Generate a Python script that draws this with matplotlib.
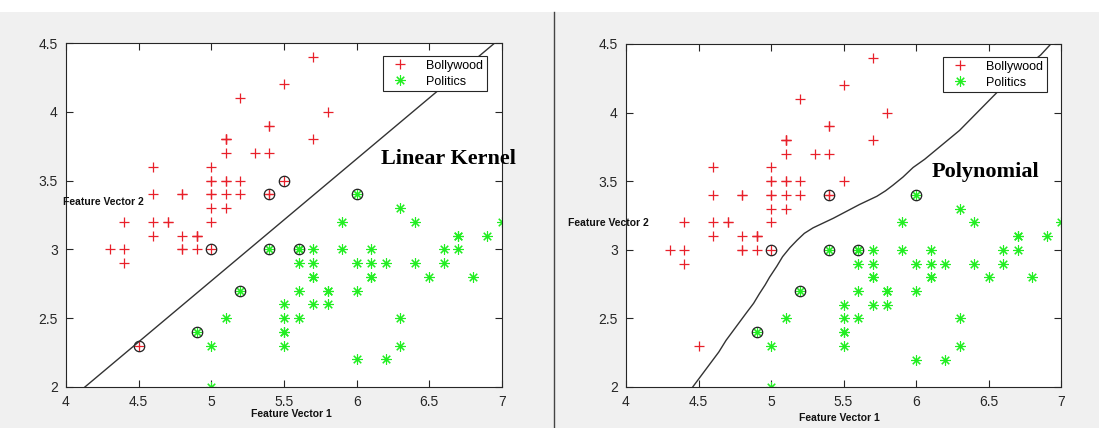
import matplotlib.pyplot as plt
from matplotlib.patches import Rectangle
from matplotlib.lines import Line2D

plt.rcParams['font.family'] = ['Liberation Sans', 'DejaVu Sans']

# Bollywood points (red +)
bolly_x = [5.1, 4.9, 4.7, 4.6, 5.0, 5.4, 4.6, 5.0, 4.4, 4.9, 5.4, 4.8, 4.8, 4.3, 5.8, 5.7, 5.4,
           5.1, 5.7, 5.1, 5.4, 5.1, 4.6, 5.1, 4.8, 5.0, 5.0, 5.2, 5.2, 4.7, 4.8, 5.4, 5.2, 5.5,
           4.9, 5.0, 5.5, 4.9, 4.4, 5.1, 5.0, 4.5, 4.4, 5.0, 5.1, 4.8, 5.1, 4.6, 5.3, 5.0]
bolly_y = [3.5, 3.0, 3.2, 3.1, 3.6, 3.9, 3.4, 3.4, 2.9, 3.1, 3.7, 3.4, 3.0, 3.0, 4.0, 4.4, 3.9,
           3.5, 3.8, 3.8, 3.4, 3.7, 3.6, 3.3, 3.4, 3.0, 3.4, 3.5, 3.4, 3.2, 3.1, 3.4, 4.1, 4.2,
           3.1, 3.2, 3.5, 3.1, 3.0, 3.4, 3.5, 2.3, 3.2, 3.5, 3.8, 3.0, 3.8, 3.2, 3.7, 3.3]

# Politics points (green *)
pol_x = [7.0, 6.4, 6.9, 5.5, 6.5, 5.7, 6.3, 4.9, 6.6, 5.2, 5.0, 5.9, 6.0, 6.1, 5.6, 6.7, 5.6,
         5.8, 6.2, 5.6, 5.9, 6.1, 6.3, 6.1, 6.4, 6.6, 6.8, 6.7, 6.0, 5.7, 5.5, 5.5, 5.8, 6.0,
         5.4, 6.0, 6.7, 6.3, 5.6, 5.5, 5.5, 6.1, 5.8, 5.0, 5.6, 5.7, 5.7, 6.2, 5.1, 5.7]
pol_y = [3.2, 3.2, 3.1, 2.3, 2.8, 2.8, 3.3, 2.4, 2.9, 2.7, 2.0, 3.0, 2.2, 2.9, 2.9, 3.1, 3.0,
         2.7, 2.2, 2.5, 3.2, 2.8, 2.5, 2.8, 2.9, 3.0, 2.8, 3.0, 2.9, 2.6, 2.4, 2.4, 2.7, 2.7,
         3.0, 3.4, 3.1, 2.3, 3.0, 2.5, 2.6, 3.0, 2.6, 2.3, 2.7, 3.0, 2.9, 2.9, 2.5, 2.8]

# support vectors (circled)
lin_sv_x = [5.4, 5.5, 5.0, 4.5, 6.0, 5.4, 5.6, 5.2, 4.9]
lin_sv_y = [3.4, 3.5, 3.0, 2.3, 3.4, 3.0, 3.0, 2.7, 2.4]
poly_sv_x = [5.4, 5.0, 6.0, 5.4, 5.6, 5.2, 4.9]
poly_sv_y = [3.4, 3.0, 3.4, 3.0, 3.0, 2.7, 2.4]

# decision boundaries
lin_bx = [4.13, 6.95]
lin_by = [2.0, 4.5]
poly_bx = [4.46, 4.52, 4.58, 4.64, 4.69, 4.76, 4.83, 4.88, 4.92, 4.96, 4.99, 5.04, 5.08,
           5.13, 5.18, 5.23, 5.29, 5.36, 5.43, 5.52, 5.61, 5.67, 5.73, 5.79, 5.84, 5.91,
           5.98, 6.06, 6.14, 6.22, 6.30, 6.44, 6.58, 6.72, 6.86, 6.93]
poly_by = [2.00, 2.085, 2.17, 2.255, 2.34, 2.44, 2.54, 2.61, 2.68, 2.745, 2.80, 2.88, 2.95,
           3.015, 3.07, 3.12, 3.16, 3.195, 3.23, 3.28, 3.33, 3.36, 3.39, 3.43, 3.47, 3.53,
           3.60, 3.66, 3.73, 3.80, 3.87, 4.02, 4.17, 4.30, 4.42, 4.50]

ticks_x = [4, 4.5, 5, 5.5, 6, 6.5, 7]
ticks_y = [2, 2.5, 3, 3.5, 4, 4.5]

RED = '#e8202a'
GREEN = '#22ee22'
AXC = '#262626'
W, H = 1099, 428

fig = plt.figure(figsize=(W / 100, H / 100), dpi=100, facecolor='#f0f0f0')
fig.patches.append(Rectangle((0, 1 - 12 / H), 1, 12 / H, transform=fig.transFigure,
                             facecolor='white', edgecolor='none', zorder=0))
fig.add_artist(Line2D([554 / W, 554 / W], [0, 1 - 12 / H], transform=fig.transFigure,
                      color='#444444', lw=1))

asterisk = (8, 2, 0)


def draw_panel(rect, bx, by, svx, svy, title, tx, ty, leg_anchor):
	ax = fig.add_axes(rect)
	ax.set_facecolor('white')
	ax.plot(bolly_x, bolly_y, ls='', marker='+', color=RED, ms=7.5, mew=0.9, label='Bollywood')
	ax.plot(pol_x, pol_y, ls='', marker=asterisk, color=GREEN, ms=7.5, mew=0.8, label='Politics')
	ax.plot(svx, svy, ls='', marker='o', mfc='none', mec='#222222', ms=7.5, mew=0.9)
	ax.plot(bx, by, color='#333333', lw=1)
	ax.set_xlim(4, 7)
	ax.set_ylim(2, 4.5)
	ax.set_xticks(ticks_x)
	ax.set_xticklabels(['4', '4.5', '5', '5.5', '6', '6.5', '7'])
	ax.set_yticks(ticks_y)
	ax.set_yticklabels(['2', '2.5', '3', '3.5', '4', '4.5'])
	ax.tick_params(direction='in', length=5, width=0.8, colors=AXC, labelsize=10,
	               top=True, right=True, pad=6)
	for s in ax.spines.values():
		s.set_color(AXC)
		s.set_linewidth(0.8)
	ax.text(tx, ty, title, fontsize=16, fontweight='bold', family='Liberation Serif',
	        ha='center', va='center', clip_on=False)
	leg = ax.legend(loc='upper right', bbox_to_anchor=leg_anchor, fontsize=9, fancybox=False,
	                framealpha=1, edgecolor=AXC, borderpad=0.3, labelspacing=0.3,
	                handletextpad=1.0, borderaxespad=0, handlelength=2.2)
	leg.get_frame().set_linewidth(0.8)
	return ax


draw_panel([66 / W, 1 - 387 / H, 436 / W, 344 / H], lin_bx, lin_by, lin_sv_x, lin_sv_y,
           'Linear Kernel', 6.63, 3.66, (0.966, 0.962))
draw_panel([626 / W, 1 - 387 / H, 435 / W, 343 / H], poly_bx, poly_by, poly_sv_x, poly_sv_y,
           'Polynomial', 6.48, 3.57, (0.968, 0.962))

lab = dict(fontsize=7.5, fontweight='bold', color='#111111', va='center')
fig.text(63 / W, 1 - 202 / H, 'Feature Vector 2', **lab)
fig.text(568 / W, 1 - 223 / H, 'Feature Vector 2', **lab)
fig.text(251 / W, 1 - 414 / H, 'Feature Vector 1', **lab)
fig.text(799 / W, 1 - 418 / H, 'Feature Vector 1', **lab)

fig.savefig('out.png', dpi=100, facecolor=fig.get_facecolor())
